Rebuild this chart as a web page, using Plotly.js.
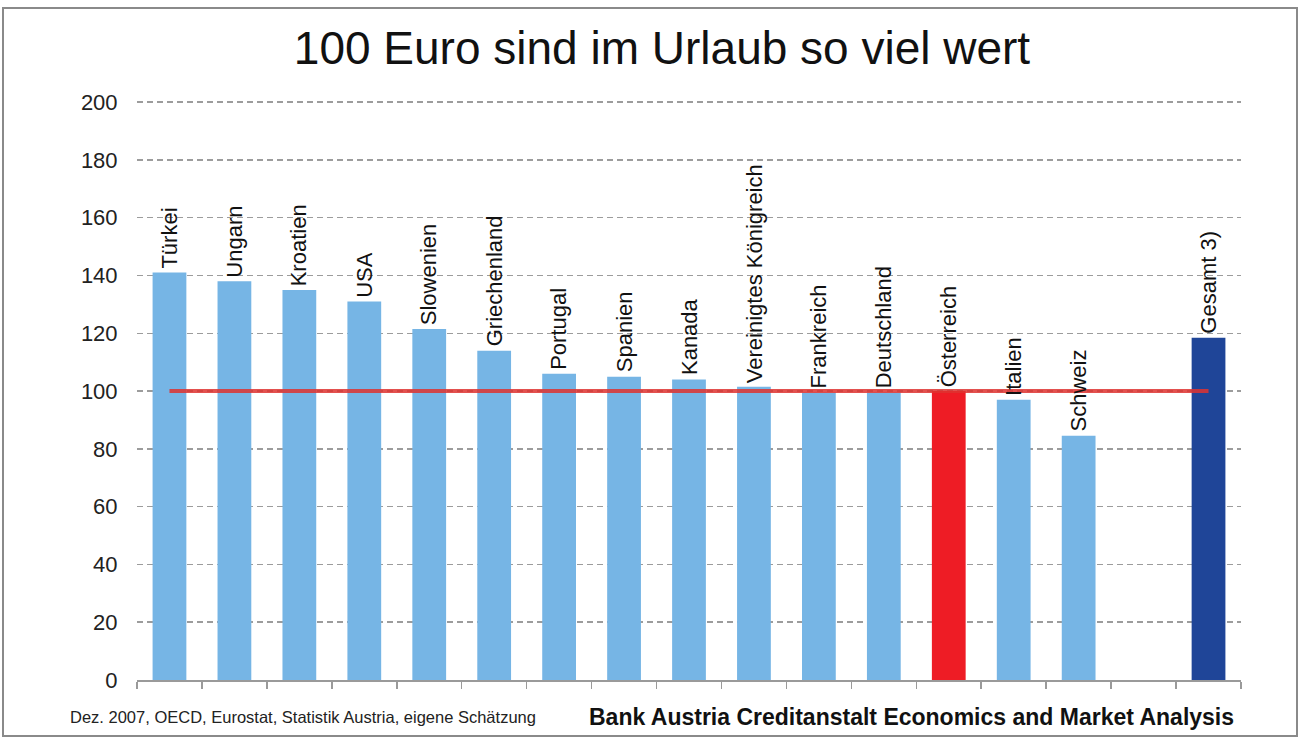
<!DOCTYPE html>
<html>
<head>
<meta charset="utf-8">
<script src="https://cdn.plot.ly/plotly-3.0.1.min.js"></script>
<style>html,body{margin:0;padding:0;background:#fff;}#chart{width:1300px;height:738px;}</style>
</head>
<body>
<div id="chart"></div>
<script>
// Data
const countries = ["Türkei","Ungarn","Kroatien","USA","Slowenien","Griechenland","Portugal","Spanien","Kanada","Vereinigtes Königreich","Frankreich","Deutschland","Österreich","Italien","Schweiz"," ","Gesamt 3)"];
const values = [141, 138, 135, 131, 121.5, 114, 106, 105, 104, 101.5, 99.5, 99.5, 100, 97, 84.5, null, 118.5];
const referenceValue = 100;
const titleText = "100 Euro sind im Urlaub so viel wert";
const sourceText = "Dez. 2007, OECD, Eurostat, Statistik Austria, eigene Schätzung";
const creditText = "Bank Austria Creditanstalt Economics and Market Analysis";
const yTicks = [0, 20, 40, 60, 80, 100, 120, 140, 160, 180, 200];

const FONT = "Liberation Sans, Arial, Helvetica, sans-serif";
const LIGHT = "#76b5e5", HOME = "#ee1c25", TOTAL = "#1f4598";
const barColors = countries.map(c => c === "Österreich" ? HOME : (c === "Gesamt 3)" ? TOTAL : LIGHT));

const bars = {
  type: "bar", x: countries, y: values,
  marker: {color: barColors, line: {width: 0}},
  hoverinfo: "x+y", showlegend: false
};
const refLine = {
  type: "scatter", mode: "lines",
  x: [countries[0], countries[countries.length - 1]],
  y: [referenceValue, referenceValue],
  line: {color: "rgba(222,50,48,0.85)", width: 4},
  showlegend: false, hoverinfo: "skip"
};

const labelAnnotations = countries.map((c, i) => values[i] == null ? null : ({
  x: c, y: values[i], xref: "x", yref: "y",
  text: c, textangle: -90, showarrow: false,
  xanchor: "center", yanchor: "bottom", yshift: 2,
  font: {family: FONT, size: 22, color: "#111"}
})).filter(a => a);

// plot area: x 137..1241, y 101..680 (range 0..200.4)
const pw = 1104, ph = 579;
const px = v => (v - 137) / pw, py = v => (680 - v) / ph;

const layout = {
  width: 1300, height: 738,
  margin: {l: 137, r: 59, t: 101, b: 58},
  paper_bgcolor: "#fff", plot_bgcolor: "#fff",
  font: {family: FONT, color: "#222"},
  title: {text: titleText, x: 662 / 1300, xref: "container", xanchor: "center",
          y: 1 - 48 / 738, yref: "container", yanchor: "middle",
          font: {family: FONT, size: 46, color: "#111"}},
  bargap: 0.48,
  xaxis: {
    type: "category", categoryorder: "array", categoryarray: countries,
    range: [-0.5, countries.length - 0.5],
    showline: true, linecolor: "#9a9a9a", linewidth: 2,
    ticks: "outside", tickson: "boundaries", ticklen: 7, tickcolor: "#9a9a9a", tickwidth: 1.5,
    showticklabels: false, showgrid: false, zeroline: false, fixedrange: true
  },
  yaxis: {
    range: [0, 200.4], tickvals: yTicks, ticktext: yTicks.map(String),
    showgrid: true, gridcolor: "#9c9c9c", gridwidth: 1.5, griddash: "6px,4px",
    zeroline: false, showline: false,
    ticks: "outside", ticklen: 14, tickcolor: "rgba(0,0,0,0)",
    tickfont: {family: FONT, size: 22, color: "#222"}, fixedrange: true
  },
  annotations: labelAnnotations.concat([
    {xref: "paper", yref: "paper", x: px(68), y: py(717), xanchor: "left", yanchor: "middle",
     text: sourceText, showarrow: false, font: {family: FONT, size: 16.5, color: "#222"}},
    {xref: "paper", yref: "paper", x: px(1236), y: py(717), xanchor: "right", yanchor: "middle",
     text: "<b>" + creditText + "</b>", showarrow: false, font: {family: FONT, size: 23, color: "#111"}}
  ]),
  shapes: [
    {type: "rect", xref: "paper", yref: "paper",
     x0: px(3), x1: px(1297), y0: py(736), y1: py(8),
     line: {color: "#8a8a8a", width: 2}, fillcolor: "rgba(0,0,0,0)", layer: "below"}
  ]
};

Plotly.newPlot("chart", [bars, refLine], layout, {displayModeBar: false, staticPlot: true});
</script>
</body>
</html>
